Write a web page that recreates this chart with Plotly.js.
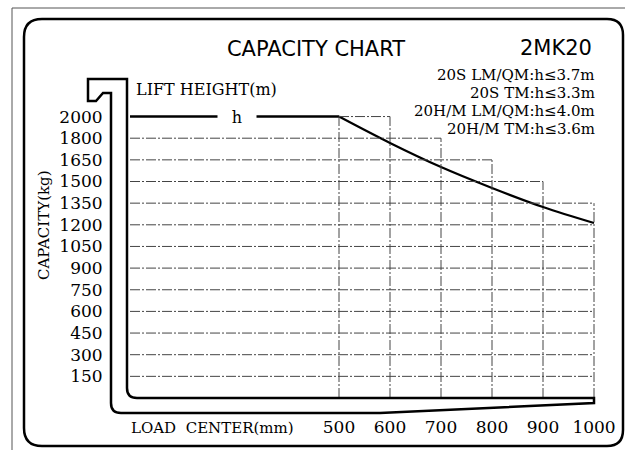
<!DOCTYPE html>
<html>
<head>
<meta charset="utf-8">
<script src="https://cdn.plot.ly/plotly-3.0.1.min.js"></script>
<style>html,body{margin:0;padding:0;background:#fff;}#chart{width:625px;height:450px;}</style>
</head>
<body>
<div id="chart"></div>
<script>
// ---- data ----
const capacityTicks = [0, 150, 300, 450, 600, 750, 900, 1050, 1200, 1350, 1500, 1650, 1800, 2000];
const capacityTickText = ['', '150', '300', '450', '600', '750', '900', '1050', '1200', '1350', '1500', '1650', '1800', '2000'];
const loadCenters = [500, 600, 700, 800, 900, 1000];
const capacityCurve = [2000, 1767, 1600, 1455, 1323, 1212];
const stepTops = [2000, 2000, 1800, 1650, 1500, 1350];
const modelNotes = ['20S LM/QM:h≤3.7m', '20S TM:h≤3.3m', '20H/M LM/QM:h≤4.0m', '20H/M TM:h≤3.6m'];

// ---- layout geometry ----
const W = 625, H = 450, ML = 127, MR = 21, MT = 84, MB = 52;
const PW = W - ML - MR, PH = H - MT - MB;
const xScale = 0.51, x500px = 339;           // px per mm, pixel of 500 mm
const yStep = 21.65;                          // px per capacity step
const pxToX = px => 500 + (px - x500px) / xScale;
const PX = x => (x - ML) / PW;
const PY = y => (H - MB - y) / PH;

// capacity -> position on the evenly spaced capacity scale
function capIdx(v) {
  for (let i = 1; i < capacityTicks.length; i++) {
    if (v <= capacityTicks[i]) {
      const a = capacityTicks[i - 1], b = capacityTicks[i];
      return i - 1 + (v - a) / (b - a);
    }
  }
  return capacityTicks.length - 1;
}

function path(cmds) {
  return cmds.map(c => {
    if (c[0] === 'Z') return 'Z';
    const pts = [];
    for (let i = 1; i < c.length; i += 2) pts.push(PX(c[i]).toFixed(5) + ',' + PY(c[i + 1]).toFixed(5));
    return c[0] + pts.join(' ');
  }).join(' ');
}

const grid = {color: '#444', width: 1, dash: '10px,2px,2px,2px'};
const shapes = [];

// horizontal dash-dot grid lines (staircase ends)
const gridStartX = pxToX(130);
capacityTicks.forEach((v, i) => {
  if (i === 0) return;
  let end = loadCenters[0];
  loadCenters.forEach((x, k) => { if (stepTops[k] >= v) end = x; });
  if (v === 2000) {
    shapes.push({type: 'line', xref: 'x', yref: 'y', x0: 500, x1: end, y0: capIdx(v), y1: capIdx(v), line: grid});
    shapes.push({type: 'line', xref: 'x', yref: 'y', x0: gridStartX, x1: 500, y0: capIdx(v), y1: capIdx(v), line: {color: '#000', width: 2.5}});
  } else {
    shapes.push({type: 'line', xref: 'x', yref: 'y', x0: gridStartX, x1: end, y0: capIdx(v), y1: capIdx(v), line: grid});
  }
});
// vertical dash-dot grid lines
loadCenters.forEach((x, k) => {
  shapes.push({type: 'line', xref: 'x', yref: 'y', x0: x, x1: x, y0: 0, y1: capIdx(stepTops[k]), line: grid});
});

// fork outline
shapes.push({type: 'path', xref: 'paper', yref: 'paper', line: {color: '#000', width: 2.5},
  path: path([['M', 88, 79], ['L', 127, 79], ['L', 127, 388], ['Q', 127, 398, 137, 398], ['L', 594, 398], ['L', 594, 403],
    ['L', 380, 413], ['L', 121, 413], ['Q', 111, 413, 111, 403], ['L', 111, 93], ['L', 103, 93], ['L', 96, 101], ['L', 88, 101], ['Z']])});
// outer rounded frame
shapes.push({type: 'path', xref: 'paper', yref: 'paper', line: {color: '#000', width: 2.5},
  path: path([['M', 42, 19], ['L', 607, 19], ['Q', 623, 19, 623, 35], ['L', 623, 430], ['Q', 623, 446, 607, 446], ['L', 42, 446],
    ['Q', 24, 446, 24, 428], ['L', 24, 37], ['Q', 24, 19, 42, 19], ['Z']])});
// thin page frame
shapes.push({type: 'line', xref: 'paper', yref: 'paper', x0: PX(12), x1: PX(625), y0: PY(8), y1: PY(8), line: {color: '#555', width: 1}});
shapes.push({type: 'line', xref: 'paper', yref: 'paper', x0: PX(12), x1: PX(12), y0: PY(8), y1: PY(450), line: {color: '#555', width: 1}});

const serif = 'DejaVu Serif';
const sans = 'DejaVu Sans';
function note(text, x, y, xanchor, size, family, extra) {
  return Object.assign({text: text, x: PX(x), y: PY(y), xref: 'paper', yref: 'paper', xanchor: xanchor, yanchor: 'middle',
    showarrow: false, font: {family: family, size: size, color: '#000'}}, extra || {});
}
const annotations = [
  note('h', 237, 117, 'center', 16, serif, {bgcolor: '#fff', width: 38, borderpad: 0}),
  note('LIFT HEIGHT(m)', 134, 89, 'left', 16, serif),
  note('LOAD  CENTER(mm)', 129, 428, 'left', 15, serif),
  note('CAPACITY(kg)', 44, 225, 'center', 15, serif, {textangle: -90}),
  note('2MK20', 556, 48, 'center', 21, sans)
];
const noteY = [75, 93, 111, 129];
modelNotes.forEach((t, i) => annotations.push(note(t, 596, noteY[i], 'right', 15, serif, {borderpad: 0})));

const traces = [{
  type: 'scatter', mode: 'lines', x: loadCenters, y: capacityCurve.map(capIdx),
  line: {color: '#000', width: 2.2, shape: 'spline', smoothing: 1}, hoverinfo: 'skip'
}];

const layout = {
  width: W, height: H, margin: {l: ML, r: MR, t: MT, b: MB},
  paper_bgcolor: '#fff', plot_bgcolor: '#fff', showlegend: false,
  title: {text: 'CAPACITY CHART', x: 316 / W, xanchor: 'center', y: 1 - 49 / H, yanchor: 'middle',
    font: {family: sans, size: 21, color: '#000'}},
  xaxis: {range: [pxToX(ML), pxToX(W - MR)], tickvals: loadCenters, ticktext: loadCenters.map(String),
    showgrid: false, zeroline: false, showline: false, ticks: 'outside', ticklen: 14, tickcolor: 'rgba(0,0,0,0)',
    tickfont: {family: serif, size: 17, color: '#000'}, fixedrange: true},
  yaxis: {range: [0, PH / yStep], tickvals: capacityTicks.map((v, i) => i), ticktext: capacityTickText,
    showgrid: false, zeroline: false, showline: false, ticks: 'outside', ticklen: 20, tickcolor: 'rgba(0,0,0,0)',
    tickfont: {family: serif, size: 17, color: '#000'}, fixedrange: true},
  shapes: shapes, annotations: annotations
};

Plotly.newPlot('chart', traces, layout, {displayModeBar: false, staticPlot: true});
</script>
</body>
</html>
